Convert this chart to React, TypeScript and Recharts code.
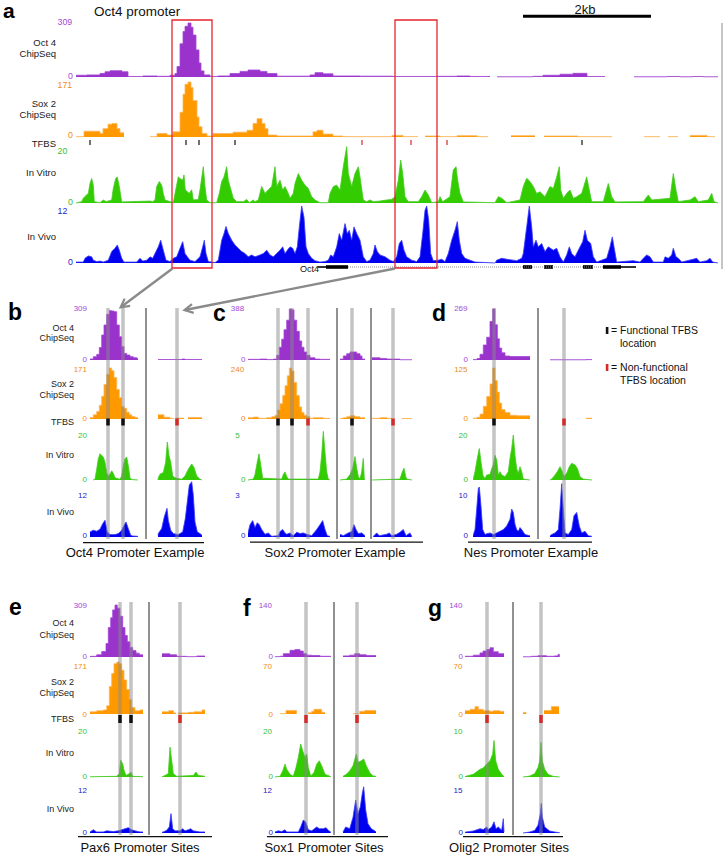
import React from 'react';
import { ComposedChart, Area, XAxis, YAxis, ReferenceLine, ReferenceArea } from 'recharts';

type P = [number, number | null];
type TF = [number, 'f' | 'n'];

// ---------------- Panel a : Oct4 promoter (positions in ~15.6 bp bins) ----------------
const aOct: P[] = [[0,10],[11,12],[24,20],[29,30],[34,36],[46,30],[52,3],[67,6],[81,4],[94,10],[99,20],[101,60],[104,190],[107,260],[109,290],[112,309],[115,285],[117,240],[120,155],[123,80],[125,35],[128,12],[134,3],[142,6],[154,20],[164,32],[172,40],[184,32],[191,20],[201,5],[234,12],[239,25],[247,18],[257,6],[284,5],[317,3],[361,4],[381,6],[394,3],[414,3],[414,null],[421,1],[457,4],[467,10],[484,16],[497,21],[511,3],[529,3],[529,null],[558,1],[591,3],[604,1],[617,3],[627,1],[642,1]];
const aSox: P[] = [[0,1],[8,18],[24,11],[27,26],[32,40],[36,42],[41,26],[44,13],[48,13],[48,null],[74,1],[81,11],[91,6],[97,16],[104,77],[107,133],[109,164],[112,171],[115,154],[117,113],[121,62],[123,32],[126,11],[131,3],[137,11],[157,15],[171,21],[177,42],[181,57],[186,42],[189,26],[192,6],[201,3],[237,16],[241,21],[247,9],[257,3],[267,1],[316,5],[327,1],[342,1],[342,null],[349,3],[364,1],[381,4],[401,1],[412,1],[412,null],[435,4],[459,4],[459,null],[468,3],[502,1],[536,1],[536,null],[568,1],[584,1],[584,null],[592,1],[602,1],[602,null],[614,5],[631,1],[639,1]];
const aVitro: P[] = [[0,0],[5.7,0.5],[7.3,1.7],[9,2.4],[12.3,3.5],[14,7.1],[15.7,8.9],[17.3,6.5],[18.3,0.5],[24,0.1],[27.3,1.1],[30,0.5],[35.7,1.1],[37.3,5.3],[39.7,8.9],[41.3,9.5],[43.3,6],[45.7,0.4],[74,0.7],[76.7,0.5],[79,1.1],[80.7,6],[83.3,7.8],[85.7,6.5],[87.3,3.5],[89,1.1],[97.3,0.1],[100,5.3],[102.3,9.5],[104,8.9],[106.7,8.3],[108,10.2],[109.3,4.8],[111.3,4.1],[113.3,3.5],[115.7,4.8],[117.3,1.1],[122.3,1.3],[124,4.8],[127.3,13.2],[129,6],[130.7,1.1],[134,0.1],[140.7,0.1],[143.3,3.5],[145.7,7.8],[148,9.5],[150.7,13.2],[152.3,8.2],[154,6],[157.3,1.7],[160.7,0.5],[167.3,0.5],[170.7,1.3],[173.3,0.1],[177.3,1.1],[179,0.5],[182.3,1.1],[185.7,6],[189,3.5],[192.3,4.8],[195.7,6],[199,13.2],[200.7,6],[204,8.3],[206.7,4.7],[209,6],[212.3,3.5],[214,1.7],[217.3,3.5],[219,7.1],[222.3,10.7],[225.7,8.3],[229,6.5],[232.3,5.3],[235.7,2.3],[239,1.1],[244,0.1],[252.3,0.1],[254,3.5],[257.3,6],[260.7,6.5],[264,4.7],[267.3,13.2],[270.7,20.5],[272.3,10.7],[275.7,6],[279,10.7],[282.3,13.2],[284,9.5],[287.3,1.1],[290.7,0.5],[294,1.1],[297.3,0.5],[304,0.7],[310.7,1.1],[315.7,1.3],[319,2.3],[322.3,8.3],[324.7,15.6],[326.7,10.7],[329,2.3],[332.3,0.5],[342.3,0.5],[345.7,2.3],[349,4.7],[352.3,2.9],[355.7,0.1],[362.3,0.5],[364,2.3],[366.7,0.5],[374,2.3],[377.3,12],[380,13.2],[381.7,8.2],[384,3.5],[387.3,0.4],[419,0.1],[422.3,2.3],[425.7,1.7],[430.7,0.1],[444,1.1],[447.3,6],[450.7,9],[454,7.8],[457.3,6],[460.7,3.5],[464,4.1],[469,2.3],[474,6],[477.3,5.3],[480.7,9.5],[483.3,13.2],[484.7,4.7],[487.3,1.7],[490.7,3.5],[494,4.7],[497.3,1.7],[500.7,2.3],[505.7,3.5],[510.7,9.5],[513.3,4.7],[515.7,0.5],[527.3,0.5],[532.3,7.1],[535.7,2.3],[539,0.4],[567.3,0.5],[572.3,2.9],[575.7,1.1],[594,1.7],[597.3,10.7],[600,4.7],[602.3,0.5],[614,1.1],[619,2.3],[622.3,0.5],[632.3,1.1],[635.7,3.5],[638,0.5],[642,0]];
const aVivo: P[] = [[0,0.2],[7.3,0.2],[9,1],[12.3,1.5],[15.7,1.3],[17.3,0.6],[20.7,0.3],[24,0.4],[27.3,0.2],[32.3,0.6],[35.7,2.4],[39,3.1],[41.3,3.8],[43.3,2.7],[45.7,1],[48,0.2],[60.7,0.2],[64,1],[66.7,0.4],[70.7,0.6],[74,1.3],[76.7,1],[79,2],[82.3,3.4],[84.7,4.8],[87.3,2.7],[90,0.6],[94,0.3],[97.3,1],[100.7,1.3],[104,3.1],[106.7,4.5],[109,2],[111.3,1.3],[114,0.6],[119,0.3],[124,1.3],[126.7,3.4],[128.3,4.8],[130,2],[132.3,0.3],[139,0.1],[142.3,0.6],[145.7,4.8],[148,6.2],[150,7.7],[152.3,6.2],[155.7,4.8],[159,3.8],[162.3,3.1],[165.7,2.4],[169,2],[172.3,1.3],[175.7,1.7],[179,1.3],[184,1.7],[187.3,2],[190.7,2.7],[194,1.7],[197.3,1.3],[200.7,2],[204,2.7],[206.7,3.4],[209,2],[211.3,2.7],[214,3.4],[216.7,3.1],[219,2],[221.3,3.4],[223.3,7.6],[225.7,12],[228,9.6],[230,3.4],[232.3,2],[235.7,1],[239,0.5],[244,0.2],[249,0.3],[252.3,0.6],[254.7,1.7],[257.3,1.3],[260.7,3.4],[263.3,6.2],[265.7,4.8],[269,8.3],[271.3,6.2],[273.3,6.9],[275.7,4.8],[278,7.6],[280.7,6.2],[284,4.8],[287.3,1.3],[290.7,0.3],[294,0.6],[297.3,2],[299,3.8],[301.3,2.4],[304,1.7],[309,1.3],[314,0.6],[317.3,0.3],[320.7,1.3],[323.3,4.1],[325.7,4.8],[328,2.7],[330.7,1.3],[335.7,0.6],[340.7,0.3],[344,1.3],[346.7,6.2],[349,11.1],[350.7,12],[352.7,9],[354.7,2],[357.3,0.5],[362.3,0.6],[365.7,0.8],[369,0.3],[372.3,2],[375.7,4.8],[379,6.9],[381.3,8.7],[383.3,4.8],[385.7,2],[389,1],[394,0.6],[399,0.2],[419,0],[420.7,0.6],[425.7,1],[430.7,0.8],[440.7,0.5],[445.7,1],[447.3,2],[450.7,7.6],[453.3,12],[455.7,7.6],[457.3,3.4],[460,4.8],[462.3,3.4],[465.7,4.1],[469,2.4],[472.3,3.4],[477.3,2.7],[480.7,3.1],[484,1.3],[487.3,0.2],[490.7,1.7],[493.3,3.4],[495.7,2],[499,1.3],[502.3,2.7],[506.7,4.5],[509,6.9],[511.3,4.8],[514.7,4.1],[517.3,1.3],[520.7,0.2],[530.7,1],[534,3.4],[536.3,5.5],[538,3.4],[540.7,0.2],[557.3,0.5],[564,0.2],[567.3,1],[570.7,1.7],[574,1.3],[577.3,0.2],[587.3,0.2],[589,1.3],[592.3,1],[595.7,1.7],[597.3,3.1],[600,1.3],[602.3,1],[605.7,0.2],[617.3,0.8],[620.7,1],[624,0.2],[630.7,0.5],[634,1],[636.7,0.2],[642,0]];
const aTfbs: TF[] = [[14,'f'],[110,'f'],[123,'f'],[159,'f'],[286,'n'],[335,'n'],[371,'n'],[506,'f']];
const aBoxes: [number, number][] = [[96,136],[319,361]];
const aScaleBar: [number, number] = [447, 575]; // 2 kb
const geneExons: [number, number][] = [[250,272],[447,456],[468,477],[507,517],[527,545]];
const geneUtr: [number, number][] = [[242,250],[545,560]];
const geneIntron: [number, number] = [272, 527];

// ---------------- Panel b : Oct4 promoter example ----------------
const bOct1: P[] = [[0,6],[3.3,20],[6.7,34],[9.3,75],[11.7,151],[14,212],[16.7,277],[19.3,299],[21.7,297],[24,293],[26.7,212],[29.3,141],[31.7,81],[34,40],[36.7,30],[40,20],[43.3,14],[46.7,10],[48,10]];
const bSox1: P[] = [[0,5],[3.3,14],[6.7,25],[9.3,46],[11.7,76],[14,116],[16.7,150],[19.3,171],[21.7,162],[24,139],[26.7,99],[29.3,71],[31.7,42],[34,36],[36.7,23],[39.3,14],[41.7,8],[45,5],[48,5]];
const bVitro1: P[] = [[3,0],[5,0.3],[6.7,4.8],[8.3,9.4],[10,11.7],[11.7,10.9],[13.3,10.2],[15,7.9],[16.7,3.3],[18.3,1.8],[20,2.6],[21.7,4.1],[23.3,3],[25,1],[30,0.3],[31.7,1.8],[33.3,6.4],[35,9.4],[36.7,10.2],[38.3,6.4],[40,1],[41.7,0.2],[48,0]];
const bVivo1: P[] = [[0,1.5],[3.3,2],[6.7,1.7],[10,2.3],[12.7,3.9],[15,4.9],[17.3,1.5],[20,0.7],[25,0.7],[28.3,1],[31.7,2],[34,3.4],[36,4.4],[38.3,2.5],[40.7,0.5],[42.7,0.3],[48,0.2]];
const bOct2: P[] = [[0,3],[20,3],[24,6],[27,3],[44,3]];
const bSox2: P[] = [[0,14],[6,6],[12,2],[16,2],[16,null],[17.5,3],[26,3],[26,null],[30,5],[44,5]];
const bVitro2: P[] = [[0,0],[0.3,1],[2,2.6],[5.3,3.3],[7.7,7.9],[9.3,16.9],[11,10.9],[12.7,7.9],[14.7,1.8],[17,1],[23.7,0.3],[27,1.8],[30.3,4.8],[33.7,7.1],[36,5.6],[38.7,1.8],[42,0.3],[44,0]];
const bVivo2: P[] = [[0,0.5],[0.3,1],[3.7,2.5],[6.3,5.9],[9,8.4],[10.3,4.9],[12.7,2],[15.3,1],[20.3,0.7],[24.7,1.5],[27.3,5.4],[29.3,10.3],[31.3,15.2],[33.7,16.2],[35.3,12.3],[37,4.4],[39.3,1.5],[42,1],[44,0.5]];
const bTf1: TF[] = [[18,'f'],[33,'f']];
const bTf2: TF[] = [[19,'n']];

// ---------------- Panel c : Sox2 promoter example ----------------
const cOct1: P[] = [[0,5],[12,7],[19,3],[25.3,7],[28.7,36],[31.3,97],[33.7,158],[36,230],[38.7,303],[41.3,388],[43.7,381],[46,303],[48.7,218],[51.3,145],[53.7,97],[56,61],[58.7,36],[62,17],[67,7],[72,5],[82,5]];
const cSox1: P[] = [[0,6],[5.3,9],[10.3,3],[18.7,6],[23.7,11],[27,18],[29.3,42],[32,72],[34.7,111],[37,157],[39.3,203],[41.3,240],[43.7,226],[46,172],[48.7,111],[51.3,57],[53.7,31],[56,18],[58.7,11],[62,3],[65.3,6],[75.3,3],[82,3]];
const cVitro1: P[] = [[0,0],[5.3,0.1],[7,0.6],[9.3,2],[11,2.9],[12.7,1.7],[14.7,0.2],[33.7,0.1],[35.3,0.6],[37,0.9],[38.7,0.4],[40.3,0.1],[70.3,0.1],[72,0.9],[73.7,2.8],[75.3,5.4],[77,3.1],[78.7,0.9],[80.3,0.1],[82,0]];
const cVivo1: P[] = [[0,0.3],[2,0.9],[4.7,1.2],[7,0.7],[9.3,1.05],[11.3,0.9],[13.7,0.55],[17,0.2],[20.3,0.3],[23.7,0.05],[30.3,0.1],[32,0.4],[34.7,0.55],[37,0.3],[38.7,0.2],[42,0.3],[45.3,0.1],[48.7,0.35],[52,0.25],[55.3,0.3],[58.7,0.2],[63.7,0.1],[68.7,0.55],[72,0.9],[74.7,1.2],[77,0.55],[79.3,0.1],[82,0.05]];
const cOct2: P[] = [[0,7],[3.3,31],[6.7,48],[10,61],[13.3,61],[16.7,48],[20,31],[22,7],[25,7]];
const cSox2: P[] = [[0,3],[3.3,6],[6.7,11],[10,15],[15,11],[20,6],[25,6]];
const cVitro2: P[] = [[0,0],[6.7,0.1],[10,0.6],[12.7,1.3],[15,2.6],[16.7,1.3],[18.3,0.4],[20,0.1],[21.7,0.9],[23.3,2.4],[24.3,0.1],[25,0]];
const cVivo2: P[] = [[0,0.2],[3.3,0.1],[8.3,0.3],[11.7,0.4],[14,0.9],[16,0.55],[18.3,0.25],[21.7,0.3],[25,0.1]];
const cOct3: P[] = [[0,17],[8,12],[14.7,7],[28,2],[40,2]];
const cSox3: P[] = [[0,3],[8,6],[15,3],[20,3],[20,null],[29.7,2],[40,2]];
const cVitro3: P[] = [[0,0],[28,0.1],[30.3,0.9],[32,1.3],[33.7,0.4],[34.7,0.1],[40,0]];
const cVivo3: P[] = [[1.3,0.05],[4.7,0.3],[7.3,0.1],[14.7,0.2],[17.3,0.3],[19.7,0.1],[24.7,0.2],[28,0.35],[31.3,0.55],[34,0.1],[38,0.3],[39.7,0.05]];
const cTf1: TF[] = [[30,'f'],[44,'f'],[60,'n']];
const cTf2: TF[] = [[12,'f']];
const cTf3: TF[] = [[21,'n']];

// ---------------- Panel d : Nes promoter example ----------------
const dOct1: P[] = [[0,2],[4,8],[7,30],[10.3,79],[13.7,120],[17,203],[19.7,269],[22,186],[24.3,112],[26.3,63],[28.7,38],[32,21],[37,18],[57,18]];
const dSox1: P[] = [[0,2],[4,4],[7,12],[10.3,31],[13.7,55],[17,86],[19.7,125],[22,94],[24.3,66],[26.3,39],[28.7,23],[32,16],[37,9],[44,8],[57,8]];
const dVitro1: P[] = [[0,0],[2,3.7],[4.3,9.6],[6.3,14],[8,8],[10,2],[12,0.7],[13.7,2.2],[17,2.5],[18.7,5],[20.3,6.7],[22,11],[23.7,8.9],[25.3,2.2],[27,3.7],[28.7,2.2],[32,1.5],[35.3,3.7],[37,9.6],[38.7,14],[40.3,20],[42,11],[43.7,5],[45.3,3],[47,5.9],[48.7,3.7],[50.3,0.4],[57,0]];
const dVivo1: P[] = [[0,0.3],[2,1.8],[3.7,6.8],[5.3,11.8],[6.3,12.2],[7.7,8.5],[9.7,1.8],[12,0.6],[13.7,0.8],[17,1],[20.3,0.6],[23.7,1],[27,1.4],[30.3,1.8],[33.7,2.7],[37,4.3],[38.7,6.8],[40.3,6],[42,3.1],[43.7,1.8],[45.3,1.4],[47,2.3],[48.7,1.8],[52,0.6],[57,0.3]];
const dOct2: P[] = [[0,1],[36,2],[42,2]];
const dSox2: P[] = [[36,2],[42,2]];
const dVitro2: P[] = [[0,0],[1.7,0.4],[5,2.2],[7.3,3.7],[10,5.9],[11.7,4.4],[14,1.5],[16.7,3],[19.3,5.9],[21.7,7.4],[25,6.7],[27.3,5.2],[30,1.5],[33.3,0.4],[42,0]];
const dVivo2: P[] = [[0,0.3],[1.7,0.6],[5,1],[8.3,1.8],[10,6.8],[11.7,13],[13.3,6.8],[15,1],[18.3,0.6],[21.7,1.8],[24,5.2],[26.7,6],[29.3,2.7],[31.7,1],[35,1.4],[38.3,0.3],[41.7,0.2]];
const dTf1: TF[] = [[21,'f']];
const dTf2: TF[] = [[14,'n']];

// ---------------- Panel e : Pax6 promoter sites ----------------
const eOct1: P[] = [[0,4],[6.7,13],[11.7,32],[16,80],[18.3,175],[20.7,233],[22.7,280],[25,309],[27.3,290],[30,242],[32.7,175],[35,128],[37.3,90],[40,57],[42.7,38],[46,23],[49.3,13],[53,13]];
const eSox1: P[] = [[0,8],[6.7,12],[13.3,15],[16.7,30],[19.3,100],[21.7,147],[24,183],[26.7,189],[29.3,183],[31.7,159],[34,124],[36.7,89],[39.3,53],[41.7,24],[45,12],[50,15],[53,15]];
const eVitro1: P[] = [[0,0.1],[26.7,0.3],[29.3,1.5],[30.7,7.4],[32.7,5.9],[34,3],[36,0.7],[39.3,1.5],[41,2.2],[42.7,0.3],[53,0.1]];
const eVivo1: P[] = [[0,0.3],[3.3,0.9],[6.7,0.3],[13.3,0.3],[16.7,0.6],[23.3,0.4],[28.3,0.6],[31.7,0.9],[35,1.2],[38.3,1.5],[41.7,0.9],[45,0.6],[50,0.3],[53,0.3]];
const eOct2: P[] = [[0,19],[8,13],[14.7,4],[24.7,2],[34.7,6],[43,6]];
const eSox2: P[] = [[0,8],[6.7,12],[11.7,4],[14,4],[14,null],[16,4],[26,6],[32,8],[40,15],[43,15]];
const eVitro2: P[] = [[0,0],[1.3,0.3],[6.3,1.5],[8,13.3],[9.7,7.4],[11.3,1.5],[14.7,0.3],[31.3,0.7],[34,2.2],[36.3,0.7],[43,0.3]];
const eVivo2: P[] = [[0,0.2],[1.3,0.3],[4.7,0.75],[7.3,1.7],[9,5.4],[10.7,1.2],[13,0.6],[18,0.6],[20.7,1.2],[23,0.6],[26.3,0.9],[28.7,1.2],[31.3,0.6],[38,0.3],[43,0.3]];
const eTf1: TF[] = [[30,'f'],[41,'f']];
const eTf2: TF[] = [[18,'n']];

// ---------------- Panel f : Sox1 promoter sites ----------------
const fOct1: P[] = [[0,1],[5,2],[8.3,9],[15,18],[20,20],[25,16],[28.3,9],[31.7,5],[36.7,4],[45,2],[55,2],[56,2]];
const fSox1: P[] = [[5,0.5],[11,5.3],[21.7,5.3],[21.7,null],[33.3,2],[36.7,4],[39,7],[46.7,2.5],[50,2.5]];
const fVitro1: P[] = [[0,0],[5,0.3],[7.7,2.7],[10,5.7],[11.7,3.5],[15,1.2],[18.3,0.3],[21,4.2],[23.3,8.7],[25.7,14.7],[27.7,11.7],[30,8.7],[31.7,10.2],[33.3,4.2],[35.7,0.5],[39,2],[41.7,5.7],[44.3,7.2],[46.7,5],[50,1.2],[55,0.3],[56,0]];
const fVivo1: P[] = [[0,0.3],[3.3,0.6],[6.7,0.4],[10,0.9],[11.7,0.3],[23.3,0.3],[25.7,1.7],[28.3,3.6],[30.7,3.1],[33.3,0.9],[36.7,0.6],[41.7,1.7],[44.3,1.2],[48.3,1.2],[51,1.5],[53.3,0.75],[55.7,0.3]];
const fOct2: P[] = [[0,3],[6.7,5],[11.7,9],[16.7,6],[23.3,4],[33,4]];
const fSox2: P[] = [[10,0.5],[16.7,4],[21.7,5.3],[33,5.3]];
const fVitro2: P[] = [[0,0.3],[3.3,1.2],[6.7,2.7],[10,5],[13.3,10.2],[15,6.5],[18.3,7.2],[20.7,8],[23.3,5],[26.7,2],[30,0.5],[33,0.3]];
const fVivo2: P[] = [[0,0.3],[2.7,1.7],[6.7,1.2],[10,4.4],[12.7,9.2],[15,5.4],[17.3,7.3],[19.3,11.1],[20.7,12.9],[22.7,6.4],[25,2.6],[28.3,1.2],[31.7,0.6],[33,0.3]];
const fTf1: TF[] = [[31,'n']];
const fTf2: TF[] = [[14,'n']];

// ---------------- Panel g : Olig2 promoter sites ----------------
const gOct1: P[] = [[0,2],[8.3,5],[15,11],[18,16],[21.7,20],[25,25],[28.3,14],[33.3,9],[39,9]];
const gSox1: P[] = [[0,5],[5,7],[10,11],[13.3,7],[18.3,5],[25,4],[28.3,5],[35,4],[39,4]];
const gVitro1: P[] = [[0,0.1],[8.3,0.6],[15,1.7],[18.3,2],[21.7,2.9],[25,3.6],[27.7,5.1],[29,8.1],[30.7,3.6],[33.3,1.7],[36.7,0.6],[39,0.1]];
const gVivo1: P[] = [[0,0.3],[8.3,0.7],[15,1.5],[18.3,1.2],[21.7,2.1],[23.3,1.2],[26.7,2.1],[29,3.9],[31,1.5],[33.3,2.1],[36.7,1],[38.3,5],[39,0.3]];
const gOct2: P[] = [[0,0.5],[8.3,2],[15,3.6],[23.3,2],[31.7,3],[35,7],[36.7,7]];
const gSox2: P[] = [[0,2.4],[3.3,2.4],[3.3,null],[21,5.3],[28.3,11],[36,11]];
const gVitro2: P[] = [[0,0],[6.7,0.2],[11.7,0.75],[15,2.1],[16.7,3.6],[18,7.7],[19.3,3.6],[21.7,1.7],[25,0.6],[30,0.15],[36.7,0]];
const gVivo2: P[] = [[0,0],[6.7,0.35],[11.7,0.9],[15,2.7],[17.3,6.7],[18.3,10.3],[19.3,5.6],[21.7,2.1],[26.7,0.7],[31.7,0.35],[36.7,0.1]];
const gTf1: TF[] = [[22,'n']];
const gTf2: TF[] = [[18,'n']];

// ---------------- track maxima (axis tops) ----------------
const maxA = [309, 171, 20, 12];
const maxB = [309, 171, 20, 12];
const maxC = [388, 240, 5, 3];
const maxD = [269, 125, 20, 10];
const maxE = [309, 171, 20, 12];
const maxF = [140, 70, 20, 12];
const maxG = [140, 70, 10, 15];

const trackNames = ['Oct 4', 'ChipSeq', 'Sox 2', 'ChipSeq', 'TFBS', 'In Vitro', 'In Vivo'];

// ---------------- styling & layout ----------------
const FONT = '"Liberation Sans", Arial, Helvetica, sans-serif';
const KEYS = ['oct', 'sox', 'vitro', 'vivo'] as const;
const FILL: Record<string, string> = { oct: '#9933cc', sox: '#ff9900', vitro: '#33cc00', vivo: '#0000ee' };
const STROKE: Record<string, string> = { oct: '#a347d6', sox: '#fbb55a', vitro: '#44cc22', vivo: '#3a3aff' };
const LBL: Record<string, string> = { oct: '#a24ad6', sox: '#f08c10', vitro: '#36bf36', vivo: '#2222cc' };

type Track = { T: number; B: number };
type Row = { P0: number; P1: number; tracks: Track[]; tf: [number, number] };
const ROW_A: Row = { P0: 5, P1: 272, tracks: [{ T: 23, B: 77 }, { T: 82, B: 137 }, { T: 148, B: 203 }, { T: 206, B: 263 }], tf: [140, 145] };
const ROW_1: Row = { P0: 308, P1: 539, tracks: [{ T: 309, B: 360 }, { T: 368, B: 419 }, { T: 435, B: 480 }, { T: 496, B: 537 }], tf: [418.5, 425.5] };
const ROW_2: Row = { P0: 602, P1: 835, tracks: [{ T: 605, B: 657 }, { T: 667, B: 714 }, { T: 732, B: 777 }, { T: 790, B: 833 }], tf: [715, 723] };

type Seg = { off: number; oct: P[]; sox: P[]; vitro: P[]; vivo: P[]; tf: TF[] };

function domainFor(t: Track, max: number, P0: number, P1: number): [number, number] {
  const k = (t.B - t.T) / max;
  return [-(P1 - t.B) / k, (t.B - P0) / k];
}
const toRows = (pts: P[], off: number) => pts.map(([x, y]) => ({ x: x + off, y }));

type PanelProps = {
  x0: number; width: number; row: Row; maxes: number[]; segs: Seg[]; seps: number[];
  tfW: number; highlight: boolean; children?: React.ReactNode;
};

function TrackPanel({ x0, width, row, maxes, segs, seps, tfW, highlight, children }: PanelProps) {
  const m = 3;
  return (
    <div style={{ position: 'absolute', left: x0 - m, top: row.P0 - m }}>
      <ComposedChart width={width + 2 * m} height={row.P1 - row.P0 + 2 * m} margin={{ top: m, right: m, bottom: m, left: m }}>
        <XAxis type="number" dataKey="x" domain={[0, width]} hide allowDataOverflow />
        {KEYS.map((k, i) => (
          <YAxis key={k} yAxisId={k} type="number" domain={domainFor(row.tracks[i], maxes[i], row.P0, row.P1)} hide allowDataOverflow />
        ))}
        <YAxis yAxisId="px" type="number" domain={[row.P0, row.P1]} reversed hide allowDataOverflow />
        {segs.flatMap((s, si) =>
          KEYS.map((k) => (
            <Area
              key={`${k}-${si}`}
              yAxisId={k}
              data={toRows(s[k], s.off)}
              dataKey="y"
              type={k === 'oct' || k === 'sox' ? 'stepAfter' : 'linear'}
              stroke={STROKE[k]}
              strokeWidth={0.8}
              fill={FILL[k]}
              fillOpacity={1}
              baseValue={0}
              dot={false}
              activeDot={false}
              connectNulls={false}
              isAnimationActive={false}
            />
          ))
        )}
        {seps.map((x) => (
          <ReferenceLine key={`sep${x}`} x={x} yAxisId="px" stroke="#222" strokeWidth={1} ifOverflow="visible" zIndex={1500} />
        ))}
        {highlight &&
          segs.flatMap((s, si) =>
            s.tf.map(([x]) => (
              <ReferenceLine key={`hl${si}-${x}`} x={x + s.off} yAxisId="px" stroke="#8a8a8a" strokeOpacity={0.5} strokeWidth={3.5} ifOverflow="visible" zIndex={1500} />
            ))
          )}
        {segs.flatMap((s, si) =>
          s.tf.map(([x, kind]) => (
            <ReferenceArea
              key={`tf${si}-${x}`}
              x1={x + s.off - tfW / 2}
              x2={x + s.off + tfW / 2}
              y1={row.tf[0]}
              y2={row.tf[1]}
              yAxisId="px"
              fill={kind === 'f' ? '#111111' : '#d42a2a'}
              fillOpacity={1}
              stroke="none"
              ifOverflow="visible"
              zIndex={1600}
            />
          ))
        )}
        {children}
      </ComposedChart>
    </div>
  );
}

type T = { x: number; y: number; s: string; size?: number; anchor?: 'start' | 'middle' | 'end'; color?: string; bold?: boolean; baseline?: boolean };
const Txt = ({ x, y, s, size = 9, anchor = 'start', color = '#222', bold = false, baseline = false }: T) => (
  <text x={x} y={y} fontSize={size} textAnchor={anchor} fill={color} fontWeight={bold ? 'bold' : 'normal'} dominantBaseline={baseline ? 'alphabetic' : 'central'} fontFamily={FONT}>
    {s}
  </text>
);

function AxisLabels({ maxes, maxX, maxAnchor, zeroX, yMax, yZero, size }: { maxes: number[]; maxX: number; maxAnchor: 'start' | 'middle' | 'end'; zeroX: number; yMax: number[]; yZero: number[]; size: number }) {
  return (
    <g>
      {KEYS.map((k, i) => (
        <g key={k}>
          <Txt x={maxX} y={yMax[i]} s={String(maxes[i])} size={size} anchor={maxAnchor} color={LBL[k]} />
          <Txt x={zeroX} y={yZero[i]} s="0" size={size} anchor="end" color={LBL[k]} />
        </g>
      ))}
    </g>
  );
}

function TrackNames({ x, ys, size }: { x: number; ys: number[]; size: number }) {
  return (
    <g>
      {trackNames.map((n, i) => (
        <Txt key={i} x={x} y={ys[i]} s={n} size={size} anchor="end" color="#1a1a1a" />
      ))}
    </g>
  );
}

export default function App() {
  const segA: Seg[] = [{ off: 0, oct: aOct, sox: aSox, vitro: aVitro, vivo: aVivo, tf: aTfbs }];
  const segB: Seg[] = [
    { off: 0, oct: bOct1, sox: bSox1, vitro: bVitro1, vivo: bVivo1, tf: bTf1 },
    { off: 68, oct: bOct2, sox: bSox2, vitro: bVitro2, vivo: bVivo2, tf: bTf2 },
  ];
  const segC: Seg[] = [
    { off: 0, oct: cOct1, sox: cSox1, vitro: cVitro1, vivo: cVivo1, tf: cTf1 },
    { off: 92, oct: cOct2, sox: cSox2, vitro: cVitro2, vivo: cVivo2, tf: cTf2 },
    { off: 124, oct: cOct3, sox: cSox3, vitro: cVitro3, vivo: cVivo3, tf: cTf3 },
  ];
  const segD: Seg[] = [
    { off: 0, oct: dOct1, sox: dSox1, vitro: dVitro1, vivo: dVivo1, tf: dTf1 },
    { off: 77, oct: dOct2, sox: dSox2, vitro: dVitro2, vivo: dVivo2, tf: dTf2 },
  ];
  const segE: Seg[] = [
    { off: 0, oct: eOct1, sox: eSox1, vitro: eVitro1, vivo: eVivo1, tf: eTf1 },
    { off: 72, oct: eOct2, sox: eSox2, vitro: eVitro2, vivo: eVivo2, tf: eTf2 },
  ];
  const segF: Seg[] = [
    { off: 0, oct: fOct1, sox: fSox1, vitro: fVitro1, vivo: fVivo1, tf: fTf1 },
    { off: 68, oct: fOct2, sox: fSox2, vitro: fVitro2, vivo: fVivo2, tf: fTf2 },
  ];
  const segG: Seg[] = [
    { off: 0, oct: gOct1, sox: gSox1, vitro: gVitro1, vivo: gVivo1, tf: gTf1 },
    { off: 58, oct: gOct2, sox: gSox2, vitro: gVitro2, vivo: gVivo2, tf: gTf2 },
  ];

  const r1Max = [308.5, 369, 435, 495];
  const r1Zero = [359.5, 418, 479.5, 535.5];
  const r2Max = [605, 666.5, 731.5, 790];
  const r2Zero = [656.5, 714, 776.5, 832.5];

  return (
    <div style={{ position: 'absolute', left: 0, top: 0, width: 727, height: 859, background: '#ffffff', overflow: 'hidden', fontFamily: FONT }}>
      <TrackPanel x0={76} width={648} row={ROW_A} maxes={maxA} segs={segA} seps={[]} tfW={1.2} highlight={false}>
        {aBoxes.map(([x1, x2]) => (
          <ReferenceArea key={`box${x1}`} x1={x1} x2={x2} y1={20} y2={268} yAxisId="px" fill="none" fillOpacity={0} stroke="#e3262b" strokeWidth={1.3} ifOverflow="visible" zIndex={1700} />
        ))}
        <ReferenceArea x1={aScaleBar[0]} x2={aScaleBar[1]} y1={14.8} y2={17.8} yAxisId="px" fill="#000" fillOpacity={1} stroke="none" ifOverflow="visible" />
        <ReferenceLine segment={[{ x: geneIntron[0], y: 267 }, { x: geneIntron[1], y: 267 }]} yAxisId="px" stroke="#8d8d8d" strokeWidth={1} strokeDasharray="1 1" ifOverflow="visible" />
        {geneUtr.map(([x1, x2]) => (
          <ReferenceArea key={`utr${x1}`} x1={x1} x2={x2} y1={266.2} y2={267.8} yAxisId="px" fill="#000" fillOpacity={1} stroke="none" ifOverflow="visible" />
        ))}
        {geneExons.map(([x1, x2]) => (
          <ReferenceArea key={`ex${x1}`} x1={x1} x2={x2} y1={265.2} y2={268.8} yAxisId="px" fill="#000" fillOpacity={1} stroke="none" ifOverflow="visible" />
        ))}
      </TrackPanel>

      <TrackPanel x0={90} width={114} row={ROW_1} maxes={maxB} segs={segB} seps={[56]} tfW={3.5} highlight />
      <TrackPanel x0={248} width={166} row={ROW_1} maxes={maxC} segs={segC} seps={[89, 123]} tfW={3.5} highlight />
      <TrackPanel x0={473} width={121} row={ROW_1} maxes={maxD} segs={segD} seps={[65]} tfW={3.5} highlight />
      <TrackPanel x0={90} width={117} row={ROW_2} maxes={maxE} segs={segE} seps={[59]} tfW={3.5} highlight />
      <TrackPanel x0={275} width={103} row={ROW_2} maxes={maxF} segs={segF} seps={[59]} tfW={3.5} highlight />
      <TrackPanel x0={465} width={97} row={ROW_2} maxes={maxG} segs={segG} seps={[48]} tfW={3.5} highlight />

      <svg width={727} height={859} style={{ position: 'absolute', left: 0, top: 0, pointerEvents: 'none' }}>
        <defs>
          <marker id="ah" markerUnits="userSpaceOnUse" markerWidth={12} markerHeight={12} refX={9} refY={6} orient="auto">
            <path d="M1,1.5 L9.5,6 L1,10.5" fill="none" stroke="#8a8a8a" strokeWidth={2.2} />
          </marker>
        </defs>
        {/* panel a text */}
        <Txt x={3} y={18} s="a" size={21} bold baseline color="#000" />
        <Txt x={94} y={15.5} s="Oct4 promoter" size={13.5} baseline color="#111" />
        <Txt x={585} y={13.5} s="2kb" size={13} anchor="middle" baseline color="#111" />
        <TrackNames x={56} ys={[42.7, 53, 103, 114, 143.5, 172.7, 236.7]} size={9.5} />
        <AxisLabels maxes={maxA} maxX={57.5} maxAnchor="start" zeroX={73} yMax={[22, 84.5, 151, 211]} yZero={[75.5, 135, 202, 262]} size={8.8} />
        <Txt x={319} y={268.5} s="Oct4" size={9} anchor="end" color="#111" />
        <line x1={722} y1={23} x2={722} y2={269} stroke="#8c8c8c" strokeWidth={1} />
        <line x1={172.5} y1={268.5} x2={121} y2={307} stroke="#8a8a8a" strokeWidth={2.4} markerEnd="url(#ah)" />
        <line x1={395} y1={268.5} x2={185} y2={310} stroke="#8a8a8a" strokeWidth={2.4} markerEnd="url(#ah)" />

        {/* panel letters */}
        <Txt x={8} y={320} s="b" size={23} bold baseline color="#000" />
        <Txt x={213} y={321} s="c" size={23} bold baseline color="#000" />
        <Txt x={432} y={321} s="d" size={23} bold baseline color="#000" />
        <Txt x={9} y={615} s="e" size={23} bold baseline color="#000" />
        <Txt x={243} y={616} s="f" size={23} bold baseline color="#000" />
        <Txt x={428} y={616} s="g" size={23} bold baseline color="#000" />

        {/* row 1 labels */}
        <TrackNames x={74} ys={[327.7, 338, 384.3, 395, 421.7, 455, 512.3]} size={9} />
        <AxisLabels maxes={maxB} maxX={87} maxAnchor="end" zeroX={87} yMax={r1Max} yZero={r1Zero} size={8} />
        <AxisLabels maxes={maxC} maxX={237.5} maxAnchor="middle" zeroX={245.5} yMax={r1Max} yZero={r1Zero} size={8} />
        <AxisLabels maxes={maxD} maxX={467.5} maxAnchor="end" zeroX={468} yMax={r1Max} yZero={r1Zero} size={8} />

        {/* legend */}
        <rect x={605.8} y={327} width={2.6} height={7} fill="#111" />
        <Txt x={611} y={333.5} s="= Functional TFBS" size={10.5} baseline color="#111" />
        <Txt x={620} y={346.5} s="location" size={10.5} baseline color="#111" />
        <rect x={605.8} y={364} width={2.6} height={7} fill="#d42a2a" />
        <Txt x={611} y={371} s="= Non-functional" size={10.5} baseline color="#111" />
        <Txt x={620} y={384} s="TFBS location" size={10.5} baseline color="#111" />

        {/* row 2 labels */}
        <TrackNames x={74} ys={[623.3, 635, 681.7, 692.7, 719, 753, 809]} size={9} />
        <AxisLabels maxes={maxE} maxX={87} maxAnchor="end" zeroX={87} yMax={r2Max} yZero={r2Zero} size={8} />
        <AxisLabels maxes={maxF} maxX={272} maxAnchor="end" zeroX={273} yMax={r2Max} yZero={r2Zero} size={8} />
        <AxisLabels maxes={maxG} maxX={462.5} maxAnchor="end" zeroX={463} yMax={r2Max} yZero={r2Zero} size={8} />

        {/* underlines and captions */}
        <line x1={83} y1={542.7} x2={204} y2={542.7} stroke="#111" strokeWidth={1.3} />
        <line x1={250} y1={542.2} x2={423} y2={542.2} stroke="#111" strokeWidth={1.3} />
        <line x1={468} y1={542.2} x2={592} y2={542.2} stroke="#111" strokeWidth={1.3} />
        <line x1={78} y1={836.7} x2={212} y2={836.7} stroke="#111" strokeWidth={1.3} />
        <line x1={267} y1={836.7} x2={388} y2={836.7} stroke="#111" strokeWidth={1.3} />
        <line x1={463} y1={836.7} x2={563} y2={836.7} stroke="#111" strokeWidth={1.3} />
        <Txt x={135} y={557} s="Oct4 Promoter Example" size={13} anchor="middle" baseline color="#111" />
        <Txt x={335} y={557} s="Sox2 Promoter Example" size={13} anchor="middle" baseline color="#111" />
        <Txt x={531} y={557} s="Nes Promoter Example" size={13} anchor="middle" baseline color="#111" />
        <Txt x={140} y={851.5} s="Pax6 Promoter Sites" size={13} anchor="middle" baseline color="#111" />
        <Txt x={324} y={851.5} s="Sox1 Promoter Sites" size={13} anchor="middle" baseline color="#111" />
        <Txt x={509} y={851.5} s="Olig2 Promoter Sites" size={13} anchor="middle" baseline color="#111" />
      </svg>
    </div>
  );
}
